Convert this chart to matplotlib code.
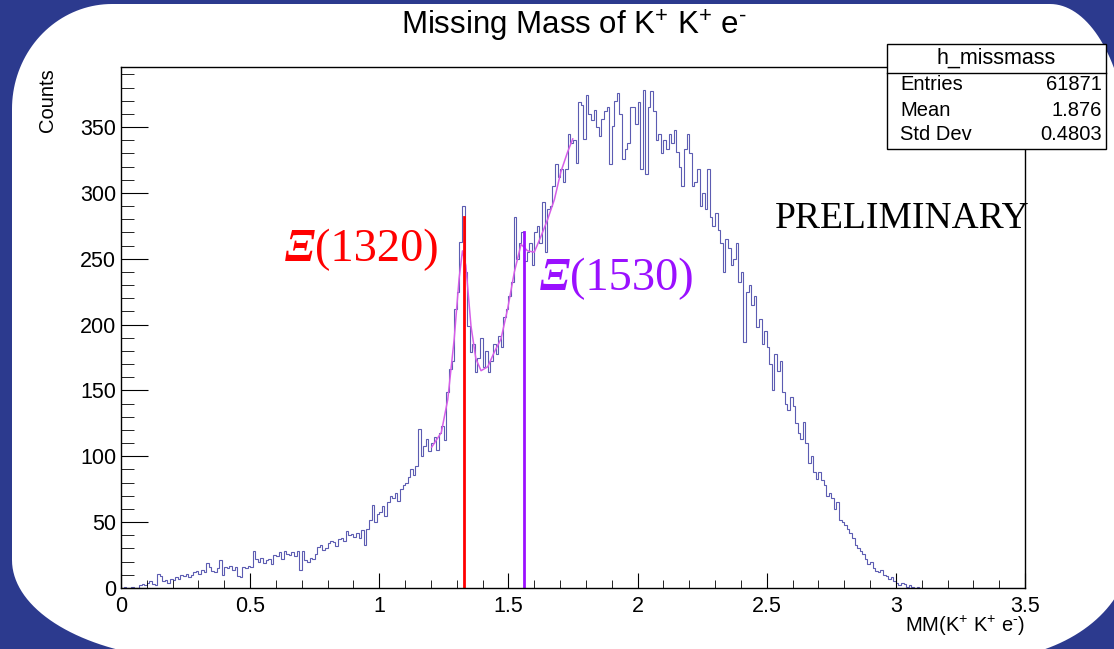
import numpy as np
import matplotlib
matplotlib.use("Agg")
import matplotlib.pyplot as plt
from matplotlib.patches import Polygon, Rectangle
from matplotlib.lines import Line2D

plt.rcParams["font.family"] = ["Liberation Sans", "DejaVu Sans"]
plt.rcParams["mathtext.fontset"] = "custom"
plt.rcParams["mathtext.rm"] = "Liberation Sans"
plt.rcParams["mathtext.it"] = "Liberation Sans:italic"
plt.rcParams["mathtext.bf"] = "Liberation Sans:bold"

# histogram h_missmass: 0.01 wide bins from 0 to 3.5
bin_lo, bin_hi, bin_w = 0.0, 3.5, 0.01
counts = [
    0, 1, 0, 0, 1, 0, 0, 2, 3, 2,                         # 0.0
    4, 5, 3, 2, 11, 9, 5, 6, 4, 7,                        # 0.1
    6, 8, 7, 10, 9, 11, 8, 10, 12, 13,                    # 0.2
    11, 14, 12, 19, 16, 13, 12, 15, 21, 10,               # 0.3
    16, 15, 17, 14, 16, 9, 8, 16, 15, 17,                 # 0.4
    16, 28, 22, 20, 23, 19, 21, 22, 18, 25,               # 0.5
    24, 27, 22, 28, 26, 25, 27, 24, 28, 14,               # 0.6
    28, 21, 20, 23, 22, 26, 31, 33, 29, 30,               # 0.7
    34, 36, 35, 32, 37, 38, 36, 43, 40, 41,               # 0.8
    39, 42, 38, 44, 33, 45, 52, 63, 50, 56,               # 0.9
    58, 62, 55, 65, 70, 68, 72, 66, 75, 78,               # 1.0
    80, 84, 90, 86, 93, 121, 100, 108, 113, 104,          # 1.1
    110, 115, 105, 118, 123, 112, 149, 166, 172, 212,     # 1.2
    225, 263, 290, 240, 199, 179, 185, 164, 175, 190,     # 1.3
    168, 180, 164, 172, 185, 178, 191, 183, 206, 212,     # 1.4
    222, 232, 282, 250, 262, 270, 248, 255, 262, 245,     # 1.5
    270, 275, 262, 293, 255, 288, 290, 305, 322, 312,     # 1.6
    318, 308, 318, 345, 338, 340, 323, 369, 367, 341,     # 1.7
    374, 360, 355, 363, 350, 343, 356, 362, 365, 322,     # 1.8
    351, 370, 376, 360, 326, 333, 338, 365, 365, 352,     # 1.9
    369, 318, 378, 314, 365, 377, 362, 340, 345, 330,     # 2.0
    340, 333, 345, 338, 348, 331, 320, 305, 333, 345,     # 2.1
    330, 305, 308, 318, 290, 300, 288, 318, 282, 275,     # 2.2
    285, 272, 262, 240, 265, 258, 245, 250, 262, 232,     # 2.3
    240, 187, 225, 230, 215, 222, 198, 204, 185, 195,     # 2.4
    183, 170, 150, 178, 165, 172, 149, 140, 135, 145,     # 2.5
    138, 125, 118, 113, 126, 110, 95, 100, 88, 83,        # 2.6
    88, 82, 78, 70, 72, 68, 60, 65, 52, 50,               # 2.7
    48, 45, 42, 38, 33, 30, 28, 26, 22, 18,               # 2.8
    20, 15, 13, 12, 14, 10, 9, 7, 8, 5,                   # 2.9
    4, 2, 4, 3, 1, 2, 1, 0, 1, 0,                         # 3.0
] + [0] * 40                                              # 3.1 - 3.5

# fit function drawn over the Xi region
fit_x = [1.203, 1.24, 1.265, 1.29, 1.309, 1.322, 1.335, 1.355, 1.374, 1.394,
         1.42, 1.445, 1.471, 1.497, 1.523, 1.549, 1.574, 1.60, 1.626, 1.652,
         1.678, 1.703, 1.729, 1.749]
fit_y = [107, 118, 143, 189, 235, 256, 245, 199, 174, 165,
         168, 179, 189, 212, 240, 261, 256, 255, 267, 280,
         295, 316, 331, 341]

# marker lines for the two Xi states
xi1320_x, xi1320_top = 1.328, 282
xi1530_x, xi1530_top = 1.560, 270

stats = [("Entries", "61871"), ("Mean", "1.876"), ("Std Dev", "0.4803")]

W, H = 1114, 649
fig = plt.figure(figsize=(W / 100, H / 100), dpi=100)
fig.patch.set_facecolor("#2c3a8e")


def px(x, y):
    return x / W, 1 - y / H


# white rounded panel
bg = fig.add_axes([0, 0, 1, 1])
bg.set_xlim(0, W)
bg.set_ylim(H, 0)
bg.axis("off")
left, right, top, bottom = 12, 1130, 4, 660
corners = [  # centre x, centre y, rx, ry, start angle
    (left + 100, top + 105, 100, 105, 180),
    (right - 80, top + 160, 80, 160, 270),
    (right - 150, bottom - 110, 150, 110, 0),
    (left + 190, bottom - 100, 190, 100, 90),
]
pts = []
for cx, cy, rx, ry, a0 in corners:
    t = np.radians(np.linspace(a0, a0 + 90, 40))
    pts += list(zip(cx + rx * np.cos(t), cy + ry * np.sin(t)))
bg.add_patch(Polygon(pts, closed=True, facecolor="white", edgecolor="none"))

ax = fig.add_axes([121 / W, 1 - 588 / H, 904 / W, 521 / H])
edges = np.linspace(bin_lo, bin_hi, len(counts) + 1)
ax.stairs(counts, edges, color="#5c5cb2", lw=0.8)
ax.plot(fit_x, fit_y, color="#d65ee8", lw=1.1)
ax.plot([xi1320_x, xi1320_x], [0, xi1320_top], color="#ff0000", lw=2)
ax.plot([xi1530_x, xi1530_x], [0, xi1530_top], color="#9a10ff", lw=2)

ax.set_xlim(0, 3.5)
ax.set_ylim(0, 395.6)
ax.set_xticks(np.arange(0, 3.51, 0.5))
ax.set_xticks(np.arange(0, 3.51, 0.1), minor=True)
ax.set_yticks(np.arange(0, 351, 50))
ax.set_yticks(np.arange(0, 391, 10), minor=True)
ax.set_xticklabels(["0", "0.5", "1", "1.5", "2", "2.5", "3", "3.5"])
ax.tick_params(axis="both", which="both", direction="in", top=False, right=False,
               labelsize=15.5, colors="black")
ax.tick_params(axis="y", which="major", length=19.5, pad=3.5)
ax.tick_params(axis="y", which="minor", length=9.5)
ax.tick_params(axis="x", which="major", length=11, pad=6)
ax.tick_params(axis="x", which="minor", length=6)
for s in ax.spines.values():
    s.set_linewidth(1.0)

serif = "Liberation Serif"
t1 = ax.text(0.635, 248, "\u039e", color="#ff0000", fontsize=33, family=serif,
             weight="bold", style="italic", ha="left", va="baseline")
ax.annotate("(1320)", xy=(1, 0), xycoords=t1, color="#ff0000", fontsize=33.5,
            family=serif, ha="left", va="bottom")
t2 = ax.text(1.622, 226, "\u039e", color="#9a10ff", fontsize=33, family=serif,
             weight="bold", style="italic", ha="left", va="baseline")
ax.annotate("(1530)", xy=(1, 0), xycoords=t2, color="#9a10ff", fontsize=33.5,
            family=serif, ha="left", va="bottom")
ax.text(2.532, 273, "PRELIMINARY", color="black", fontsize=27, family=serif,
        ha="left", va="baseline")

fig.text(*px(574, 26), r"Missing Mass of K$^{+}$ K$^{+}$ e$^{\text{-}}$",
         fontsize=22.5, ha="center", va="center")
fig.text(*px(47, 68), "Counts", rotation=90, fontsize=14.5, ha="center", va="top")
fig.text(*px(1025, 626), r"MM(K$^{+}$ K$^{+}$ e$^{\text{-}}$)", fontsize=14.5,
         ha="right", va="center")

# stats box
bx0, by0, bx1, by1, hy = 887, 44, 1106, 149, 73
fig.add_artist(Rectangle(px(bx0, by1), (bx1 - bx0) / W, (by1 - by0) / H,
                         transform=fig.transFigure, facecolor="white",
                         edgecolor="black", lw=1))
fig.add_artist(Line2D([bx0 / W, bx1 / W], [1 - hy / H, 1 - hy / H],
                      transform=fig.transFigure, color="black", lw=1))
fig.text(*px((bx0 + bx1) / 2, 58), "h_missmass", fontsize=15.5, ha="center", va="center")
for i, (name, val) in enumerate(stats):
    yy = 85 + i * 25
    fig.text(*px(900, yy), name, fontsize=14.5, ha="left", va="center")
    fig.text(*px(1102, yy), val, fontsize=14.5, ha="right", va="center")

fig.savefig("out.png", dpi=100, facecolor=fig.get_facecolor())
